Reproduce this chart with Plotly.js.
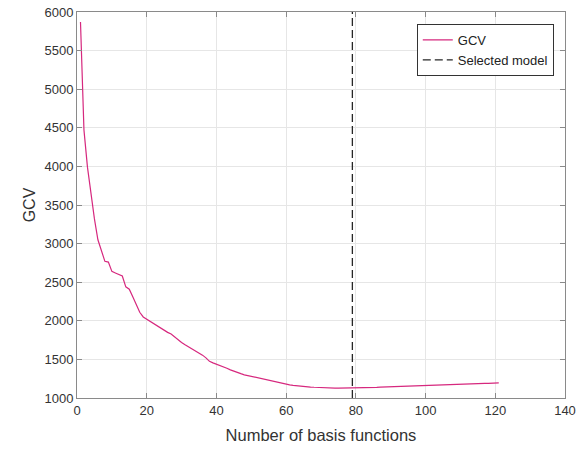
<!DOCTYPE html>
<html>
<head>
<meta charset="utf-8">
<script src="https://cdn.plot.ly/plotly-3.0.1.min.js"></script>
<style>html,body{margin:0;padding:0;background:#fff;}#chart{width:582px;height:449px;}</style>
</head>
<body>
<div id="chart"></div>
<script>
const gcvValues = [
 5870, 4470, 3990, 3620, 3320, 3050, 2900, 2770, 2760, 2640,
 2620, 2600, 2580, 2440, 2410, 2310, 2200, 2110, 2050, 2020,
 1990, 1960, 1935, 1900, 1880, 1850, 1830, 1790, 1760, 1720,
 1690, 1665, 1640, 1610, 1585, 1555, 1520, 1475, 1455, 1440,
 1420, 1405, 1385, 1365, 1345, 1328, 1315, 1300, 1290, 1280,
 1268, 1258, 1246, 1234, 1222, 1212, 1202, 1192, 1184, 1176,
 1170, 1164, 1158, 1154, 1150, 1146, 1142, 1139, 1136, 1134,
 1132, 1131, 1130, 1129, 1129, 1129, 1129, 1129, 1129, 1130,
 1131, 1132, 1134, 1135, 1137, 1138, 1140, 1142, 1143, 1145,
 1147, 1148, 1150, 1152, 1153, 1155, 1157, 1158, 1160, 1162,
 1164, 1165, 1167, 1169, 1170, 1172, 1174, 1175, 1177, 1178,
 1180, 1181, 1183, 1184, 1186, 1187, 1189, 1190, 1192, 1193,
 1195
];
const basisCounts = gcvValues.map((v, i) => i + 1);
const selectedModel = 79;
const selectedY = [1000, 6000];
const xTicks = [0, 20, 40, 60, 80, 100, 120, 140];
const yTicks = [1000, 1500, 2000, 2500, 3000, 3500, 4000, 4500, 5000, 5500, 6000];

const traces = [
  {x: basisCounts, y: gcvValues, type: 'scatter', mode: 'lines', name: 'GCV',
   line: {color: '#d6287e', width: 1.2}},
  {x: [selectedModel, selectedModel], y: selectedY, type: 'scatter', mode: 'lines',
   name: 'Selected model', line: {color: '#262626', width: 1.3, dash: '8px,4px'}}
];

const axisCommon = {
  showline: true, linecolor: '#8a8a8a', linewidth: 1, mirror: 'ticks',
  ticks: 'inside', ticklen: 5, tickcolor: '#8a8a8a', tickwidth: 1,
  showgrid: true, gridcolor: '#e6e6e6', gridwidth: 1, zeroline: false,
  tickfont: {family: 'Liberation Sans, Arial, sans-serif', size: 13, color: '#333'}
};

const layout = {
  width: 582, height: 449,
  margin: {l: 77, r: 17, t: 12, b: 51},
  paper_bgcolor: '#fff', plot_bgcolor: '#fff',
  showlegend: true,
  xaxis: Object.assign({}, axisCommon, {
    range: [0, 140], tickvals: xTicks, ticktext: xTicks.map(String),
    title: {text: 'Number of basis functions', standoff: 12,
            font: {family: 'Liberation Sans, Arial, sans-serif', size: 16.5, color: '#333'}}
  }),
  yaxis: Object.assign({}, axisCommon, {
    range: [1000, 6000], tickvals: yTicks, ticktext: yTicks.map(String),
    title: {text: 'GCV', standoff: 4,
            font: {family: 'Liberation Sans, Arial, sans-serif', size: 16, color: '#333'}}
  }),
  legend: {
    x: 0.977, y: 0.969, xanchor: 'right', yanchor: 'top',
    bgcolor: '#fff', bordercolor: '#333', borderwidth: 1,
    font: {family: 'Liberation Sans, Arial, sans-serif', size: 13, color: '#222'},
    tracegroupgap: 0, itemwidth: 30
  }
};

Plotly.newPlot('chart', traces, layout, {displayModeBar: false, staticPlot: true});
</script>
</body>
</html>
